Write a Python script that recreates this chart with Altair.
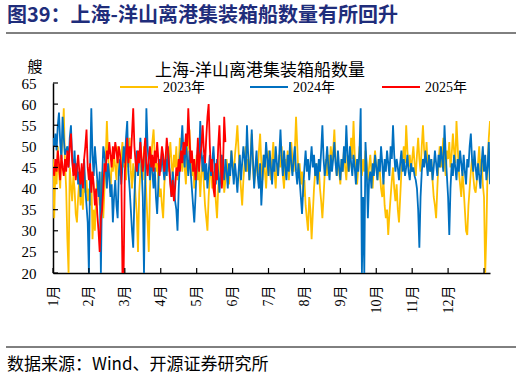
import json
import altair as alt
import pandas as pd

# ---------------- data ----------------
series_names = ["2023年", "2024年", "2025年"]
series_colors = ["#FFC000", "#0070C0", "#FF0000"]
month_labels = ["1月", "2月", "3月", "4月", "5月", "6月", "7月", "8月", "9月", "10月", "11月", "12月"]
tick_days = [0, 30, 60, 90, 120, 150, 180, 210, 240, 270, 300, 330, 360]
y_ticks = [20, 25, 30, 35, 40, 45, 50, 55, 60, 65]

v2023 = [
    47, 33, 45, 41, 50, 44, 40, 48, 52, 59,
    46, 40, 28, 20, 45, 41, 37, 43, 40, 34,
    32, 38, 42, 36, 40, 35, 44, 39, 42, 37,
    40, 36, 44, 28, 35, 30, 38, 42, 40, 36,
    41, 44, 33, 40, 47, 56, 48, 44, 39, 46,
    44, 48, 45, 42, 50, 46, 43, 48, 51, 45,
    47, 42, 49, 45, 52, 44, 40, 46, 43, 38,
    34, 25, 39, 44, 47, 42, 50, 45, 38, 32,
    25, 40, 47, 51, 54, 48, 44, 46, 42, 38,
    40, 36, 33, 41, 45, 49, 44, 47, 51, 46,
    43, 48, 45, 50, 42, 46, 52, 47, 44, 49,
    45, 41, 48, 50, 54, 47, 43, 46, 40, 44,
    48, 42, 45, 38, 44, 47, 41, 36, 33, 30,
    38, 43, 46, 40, 44, 42, 37, 33, 40, 45,
    48, 43, 46, 39, 42, 47, 44, 41, 45, 49,
    46, 43, 48, 51, 55, 49, 44, 40, 36, 42,
    46, 50, 44, 47, 42, 48, 53, 45, 41, 44,
    47, 43, 49, 53, 46, 42, 48, 44, 40, 46,
    49, 45, 42, 47, 51, 44, 40, 46, 43, 48,
    45, 50, 43, 40, 47, 44, 49, 42, 46, 51,
    47, 44, 49, 57, 50, 43, 46, 41, 44, 38,
    42, 36, 33, 30, 38, 35, 28, 34, 40, 44,
    46, 42, 45, 40, 37, 33, 38, 44, 47, 43,
    48, 45, 50, 46, 49, 54, 47, 43, 46, 44,
    41, 47, 44, 49, 45, 42, 48, 44, 46, 52,
    47, 56, 48, 44, 41, 45, 50, 46, 43, 47,
    44, 49, 46, 42, 45, 48, 44, 40, 46, 49,
    45, 42, 47, 44, 40, 38, 42, 36, 33, 35,
    29, 34, 38, 42, 45, 40, 37, 41, 35, 32,
    38, 44, 47, 50, 46, 55, 49, 45, 48, 44,
    47, 50, 46, 43, 48, 52, 47, 44, 50, 55,
    49, 46, 51, 45, 48, 44, 47, 42, 38, 36,
    33, 40, 46, 50, 45, 48, 52, 46, 43, 49,
    47, 51, 45, 48, 53, 49, 46, 56, 50, 44,
    41, 38, 44, 40, 35, 30, 29, 36, 40, 44,
    47, 43, 40, 39, 42, 46, 50, 44, 47, 41,
    38, 20, 30, 45, 52, 56,
]

v2024 = [
    52, 50, 53, 49, 55, 58, 51, 47, 57, 52,
    48, 49, 50, 45, 52, 55, 47, 44, 49, 43,
    46, 41, 44, 38, 45, 42, 47, 40, 36, 32,
    20, 45, 59, 48, 43, 50, 46, 42, 38, 44,
    20, 42, 50, 48, 45, 40, 46, 43, 38, 41,
    32, 38, 42, 36, 33, 44, 47, 41, 45, 50,
    46, 52, 56, 44, 40, 35, 30, 26, 38, 45,
    49, 43, 47, 52, 45, 38, 20, 42, 59, 50,
    46, 42, 48, 44, 40, 45, 38, 34, 41, 47,
    44, 49, 45, 42, 47, 43, 50, 46, 42, 38,
    44, 41, 37, 35, 30, 40, 47, 50, 55, 48,
    45, 52, 47, 43, 49, 44, 40, 36, 32, 38,
    45, 50, 47, 56, 49, 44, 48, 42, 46, 40,
    44, 48, 43, 46, 50, 45, 41, 47, 44, 39,
    43, 48, 45, 42, 47, 44, 40, 46, 43, 49,
    45, 41, 46, 43, 39, 44, 48, 42, 46, 50,
    47, 44, 55, 48, 42, 46, 54, 47, 40, 45,
    49, 43, 40, 46, 36, 42, 48, 45, 51, 47,
    43, 49, 45, 41, 47, 44, 50, 46, 43, 48,
    54, 47, 43, 49, 45, 42, 48, 44, 51, 46,
    43, 47, 50, 44, 41, 46, 42, 38, 34, 40,
    45, 49, 44, 47, 42, 46, 50, 45, 48, 43,
    46, 41, 47, 44, 49, 55, 47, 43, 46, 50,
    45, 42, 48, 44, 47, 51, 46, 43, 49, 45,
    42, 47, 44, 50, 46, 55, 48, 44, 50, 46,
    43, 48, 45, 41, 47, 44, 49, 59, 20, 38,
    20, 51, 45, 33, 42, 44, 40, 46, 43, 48,
    45, 42, 47, 44, 50, 46, 41, 47, 44, 49,
    46, 43, 50, 47, 55, 48, 44, 47, 45, 42,
    46, 49, 44, 47, 43, 45, 48, 44, 42, 46,
    44, 45, 43, 42, 40, 35, 26, 38, 44, 47,
    45, 49, 46, 43, 48, 44, 47, 42, 45, 49,
    46, 43, 48, 45, 50, 47, 44, 55, 48, 43,
    38, 29, 40, 46, 43, 48, 45, 42, 47, 44,
    49, 46, 43, 48, 44, 41, 47, 45, 50, 53,
    47, 44, 49, 45, 42, 46, 43, 40, 46, 50,
    44, 48, 42, 45, 51, 41,
]

v2025 = [
    45, 43, 47, 44, 49, 46, 42, 48, 45, 43,
    47, 44, 49, 45, 50, 53, 47, 43, 46, 42,
    45, 48, 44, 41, 46, 40, 47, 50, 54, 45,
    42, 46, 39, 44, 41, 36, 40, 34, 30, 25,
    33, 35, 40, 46, 44, 49, 47, 51, 48, 45,
    50, 47, 51, 49, 46, 50, 48, 45, 20, 20,
    44, 48, 52, 46, 50, 47, 53, 59, 50, 46,
    44, 49, 46, 51, 47, 44, 48, 52, 46, 43,
    47, 50, 45, 48, 44, 49, 46, 51, 47, 43,
    46, 50, 48, 44, 47, 52, 49, 45, 41, 38,
    42, 37, 40, 45, 43, 47, 44, 49, 46, 51,
    48, 53, 50, 59, 52, 46, 49, 44, 47, 42,
    45, 52, 44, 48, 50, 55, 49, 46, 52, 57,
    60, 50, 44, 47, 40, 38, 46, 42, 50, 55,
    47, 40, 45, 57, 51,
]

header_title = "图39：上海-洋山离港集装箱船数量有所回升"
chart_title = "上海-洋山离港集装箱船数量"
unit_label = "艘"
source_note = "数据来源：Wind、开源证券研究所"

# ---------------- build ----------------
rows = []
for name, vals in zip(series_names, [v2023, v2024, v2025]):
    for i, v in enumerate(vals):
        rows.append({"day": i, "value": v, "series": name})
df = pd.DataFrame(rows)

SERIF = "Liberation Serif, Noto Sans CJK SC"
CJK = "Noto Sans CJK SC"

label_expr = json.dumps(month_labels, ensure_ascii=False) + "[floor(datum.value / 30)]"

x_scale = alt.Scale(domain=[0, 365], nice=False, zero=False)
y_scale = alt.Scale(domain=[20, 65], nice=False, zero=False)

x_axis = alt.Axis(
    values=tick_days[:12], labelExpr=label_expr, labelAngle=-90, labelOverlap=False,
    labelBound=False, labelFlush=False,
    ticks=False, grid=False, title=None, domainColor="#000000", domainWidth=1.5,
    labelFont=SERIF, labelFontSize=14, labelColor="#000000", labelPadding=12,
)
y_axis = alt.Axis(
    values=y_ticks, ticks=False, grid=False, title=None, labelOverlap=False,
    labelBound=False, labelFlush=False,
    domainColor="#000000", domainWidth=1.5,
    labelFont=SERIF, labelFontSize=15, labelColor="#000000", labelPadding=17,
)

def xe():
    return alt.X("day:Q", scale=x_scale, axis=x_axis)

def ye():
    return alt.Y("value:Q", scale=y_scale, axis=y_axis)

layers = []
for name, col in zip(series_names, series_colors):
    layers.append(
        alt.Chart(df).transform_filter(alt.datum.series == name)
        .mark_line(color=col, strokeWidth=1.8, clip=True)
        .encode(x=xe(), y=ye())
    )

# inward ticks
xt = alt.Chart(pd.DataFrame({"day": tick_days})).mark_rule(color="#000000", strokeWidth=1.2).encode(
    x=xe(), y=alt.value(190), y2=alt.value(185))
yt = alt.Chart(pd.DataFrame({"value": y_ticks})).mark_rule(color="#000000", strokeWidth=1.2).encode(
    y=ye(), x=alt.value(0), x2=alt.value(5))
layers += [xt, yt]

# legend
leg_x = [67, 197, 329]
for name, col, lx in zip(series_names, series_colors, leg_x):
    layers.append(alt.Chart(pd.DataFrame({"t": [name]})).mark_rule(color=col, strokeWidth=2.2).encode(
        x=alt.value(lx), x2=alt.value(lx + 38), y=alt.value(4)))
    layers.append(alt.Chart(pd.DataFrame({"t": [name]})).mark_text(
        align="left", baseline="middle", font=SERIF, fontSize=14, color="#000000").encode(
        text="t:N", x=alt.value(lx + 43), y=alt.value(5)))

def txt(s, x, y, **kw):
    return alt.Chart(pd.DataFrame({"t": [s]})).mark_text(baseline="middle", **kw).encode(
        text="t:N", x=alt.value(x), y=alt.value(y))

layers.append(txt(chart_title, 207, -12, align="center", font=CJK, fontSize=17, color="#000000"))
layers.append(txt(unit_label, -18, -16, align="center", font=CJK, fontSize=15, color="#000000"))
layers.append(txt(header_title, -46, -67, align="left", font=CJK, fontSize=20, fontWeight="bold", color="#1f2d7b"))
layers.append(txt(source_note, -46, 282, align="left", font=CJK, fontSize=17, color="#000000"))

# header / footer separator lines
for yy in [-50, 264]:
    layers.append(alt.Chart(pd.DataFrame({"t": [0]})).mark_rule(color="#000000", strokeWidth=1).encode(
        x=alt.value(-47), x2=alt.value(463), y=alt.value(yy)))

chart = alt.layer(*layers).properties(
    width=437, height=190,
    padding={"left": 53, "top": 83, "right": 32, "bottom": 104},
    autosize=alt.AutoSizeParams(type="none"),
    background="#ffffff",
).configure_view(stroke=None).configure_axis(labelOverlap=False)

chart.save("out.html", embed_options={"renderer": "svg", "actions": False})
